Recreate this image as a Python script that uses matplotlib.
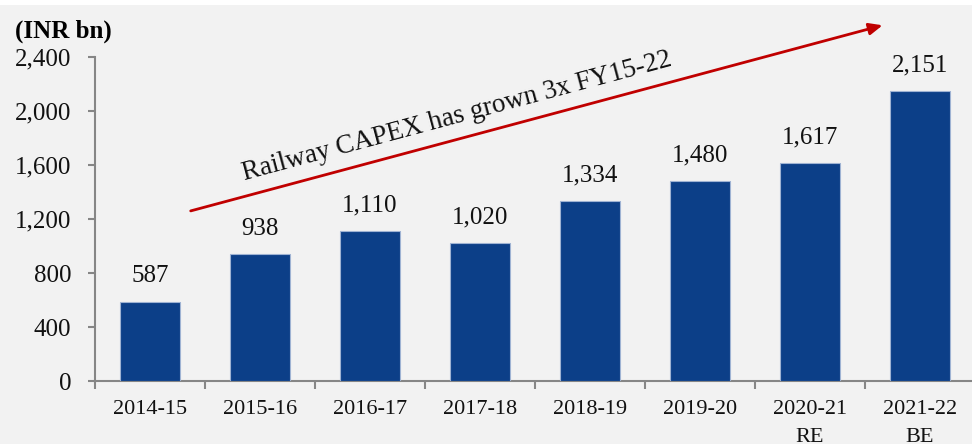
import matplotlib
matplotlib.use("Agg")
import matplotlib.pyplot as plt
from matplotlib.patches import Rectangle
from matplotlib.ticker import FuncFormatter, FixedLocator

years = ['2014-15', '2015-16', '2016-17', '2017-18', '2018-19',
         '2019-20', '2020-21\nRE', '2021-22\nBE']
capex = [587, 938, 1110, 1020, 1334, 1480, 1617, 2151]
yticks = [0, 400, 800, 1200, 1600, 2000, 2400]

note = 'Railway CAPEX has grown 3x FY15-22'
arrow_start = (0.37, 1260)
arrow_end = (6.66, 2635)

plt.rcParams['font.family'] = ['Liberation Serif', 'DejaVu Serif']

fig = plt.figure(figsize=(9.72, 4.44), dpi=100, facecolor='white')
# grey panel, white strip on top
fig.patches.append(Rectangle((0, 0), 1, 439 / 444, transform=fig.transFigure,
                             facecolor='#f2f2f2', edgecolor='none', zorder=-10))

ax = fig.add_axes([95 / 972, 63 / 444, 880 / 972, 324 / 444])
ax.set_facecolor('none')

x = range(len(years))
ax.bar(x, capex, width=0.55, color='#0c3f88', edgecolor='#9fb3d3', linewidth=0.8, zorder=3)

for i, v in enumerate(capex):
    ax.annotate(f'{v:,}', (i, v), xytext=(0, 14), textcoords='offset points',
                ha='center', va='baseline', fontsize=18, color='#111111')

ax.set_xlim(-0.5, len(years) - 0.5)
ax.set_ylim(0, 2400)
ax.set_yticks(yticks)
ax.yaxis.set_major_formatter(FuncFormatter(lambda v, p: f'{int(v):,}'))
ax.set_xticks(list(x))
ax.set_xticklabels(years)
ax.xaxis.set_minor_locator(FixedLocator([i - 0.5 for i in range(len(years) + 1)]))

for s in ['top', 'right']:
    ax.spines[s].set_visible(False)
for s in ['left', 'bottom']:
    ax.spines[s].set_color('#868686')
    ax.spines[s].set_linewidth(1.5)

ax.tick_params(axis='y', length=5, width=1.5, color='#868686', pad=12,
               labelsize=18, labelcolor='#111111')
ax.tick_params(axis='x', which='major', length=0, pad=14,
               labelsize=16, labelcolor='#111111')
ax.tick_params(axis='x', which='minor', length=6, width=1.5, color='#868686')
for lab in ax.get_xticklabels():
    lab.set_linespacing(1.6)

fig.text(15 / 972, 1 - 38 / 444, '(INR bn)', fontsize=18, fontweight='bold',
         ha='left', va='baseline')

ax.annotate('', xy=arrow_end, xytext=arrow_start, annotation_clip=False,
            arrowprops=dict(arrowstyle='-|>,head_length=0.8,head_width=0.35',
                            color='#c00000', lw=2, shrinkA=0, shrinkB=0))
ax.text(2.79, 1960, note, rotation=15, rotation_mode='anchor', ha='center',
        va='center', fontsize=19.5, color='#111111')

fig.savefig('out.png', dpi=100, facecolor=fig.get_facecolor())
